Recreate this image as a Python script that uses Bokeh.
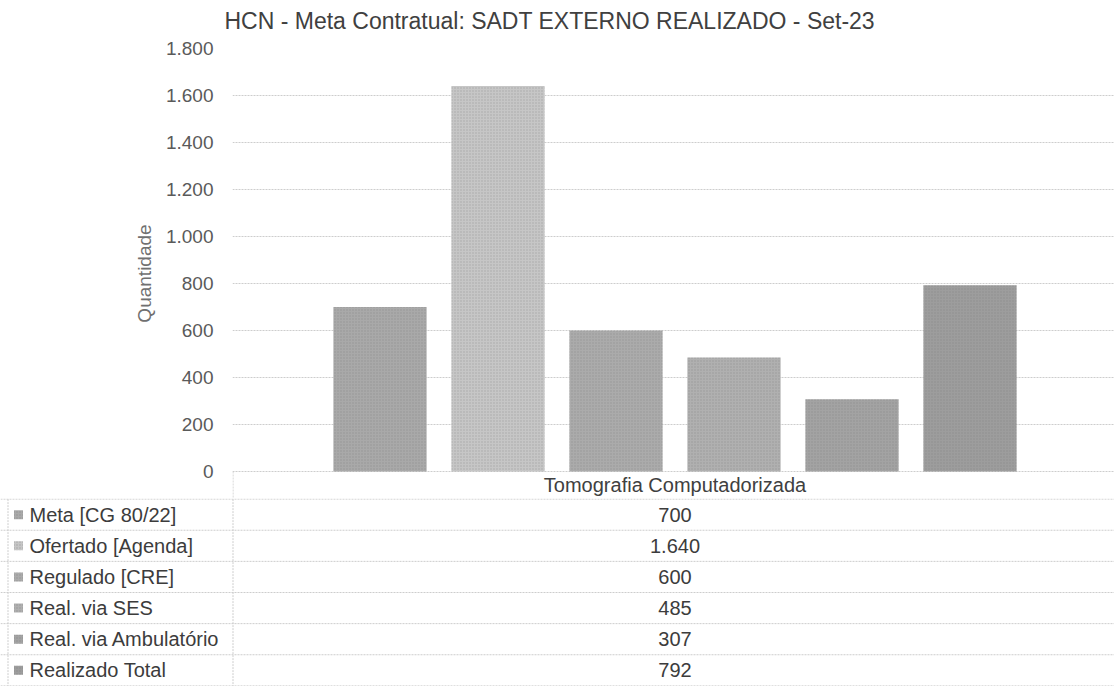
from bokeh.plotting import figure
from bokeh.models import Range1d, FixedTicker, ColumnDataSource
from bokeh.layouts import column
from bokeh.embed import file_html
from bokeh.resources import INLINE
from bokeh.core.properties import value

# ---------------- data ----------------
title_text = "HCN - Meta Contratual: SADT EXTERNO REALIZADO - Set-23"
category = "Tomografia Computadorizada"
series = ["Meta [CG 80/22]", "Ofertado [Agenda]", "Regulado [CRE]",
          "Real. via SES", "Real. via Ambulatório", "Realizado Total"]
values = [700, 1640, 600, 485, 307, 792]
colors = ["#a9a9a9", "#c6c6c6", "#ababab", "#b0b0b0", "#a3a3a3", "#9d9d9d"]
y_ticks = [0, 200, 400, 600, 800, 1000, 1200, 1400, 1600, 1800]
y_label = "Quantidade"


def br(n):
    return f"{n:,}".replace(",", ".")


FONT = "Liberation Sans"
GRID = "#cdcdcd"
idx = list(range(len(series)))
src = ColumnDataSource(dict(x=idx, top=values, color=colors))

W = 1114
LEFT = 232
unit = 118.0


def blank(height, yr):
    f = figure(width=W, height=height, output_backend="svg",
               toolbar_location=None, x_range=Range1d(0, W), y_range=yr,
               x_axis_location=None, y_axis_location=None, min_border=0,
               outline_line_color=None, background_fill_color="white",
               border_fill_color="white", frame_align=False)
    f.grid.visible = False
    return f


# ---------------- title strip ----------------
TH = 32
tt = blank(TH, Range1d(TH, 0))
tt.text(x=[224], y=[20], text=[title_text], text_align="left",
        text_baseline="middle", text_font=value(FONT), text_font_size="23px",
        text_color="#404040")

# ---------------- chart ----------------
xr = Range1d(-1.25, -1.25 + (W - LEFT) / unit)
p = figure(width=W, height=498 - TH, output_backend="svg",
           toolbar_location=None, x_range=xr, y_range=Range1d(-115, 1800),
           x_axis_location=None, min_border_left=LEFT, min_border_right=0,
           min_border_top=48 - TH, min_border_bottom=0,
           outline_line_color=None, background_fill_color="white",
           border_fill_color="white", frame_align=False)

p.vbar(x="x", top="top", width=0.79, fill_color="color", line_color=None,
       source=src, hatch_pattern="dot", hatch_color="#6e6e6e",
       hatch_alpha=0.35, hatch_scale=3, hatch_weight=1)

ax = p.yaxis[0]
ax.ticker = FixedTicker(ticks=y_ticks)
ax.major_label_overrides = {t: br(t) for t in y_ticks}
ax.axis_line_color = None
ax.major_tick_line_color = None
ax.minor_tick_line_color = None
ax.major_tick_out = 0
ax.major_tick_in = 0
ax.major_label_standoff = 19
ax.major_label_text_font = FONT
ax.major_label_text_font_size = "19px"
ax.major_label_text_color = "#5a5a5a"
ax.axis_label = y_label
ax.axis_label_text_font = FONT
ax.axis_label_text_font_style = "normal"
ax.axis_label_text_font_size = "19px"
ax.axis_label_text_color = "#707070"
ax.axis_label_standoff = 8

p.xgrid.visible = False
p.ygrid.ticker = FixedTicker(ticks=y_ticks)
p.ygrid.grid_line_color = GRID
p.ygrid.grid_line_dash = "2 1"

# table header cell (inside chart frame, below the zero line)
x_left = xr.start + 0.5 / unit
p.segment(x0=[x_left], x1=[x_left], y0=[0], y1=[p.y_range.start],
          line_color=GRID, line_dash="2 1")
p.text(x=[sum(idx) / len(idx)], y=[p.y_range.start / 2], text=[category],
       text_align="center", text_baseline="middle", text_font=value(FONT),
       text_font_size="20px", text_color="#404040")

# ---------------- data table ----------------
n = len(series)
t = blank(188, Range1d(n + 0.02, -0.02))

lines_y = list(range(n + 1))
t.segment(x0=[0] * len(lines_y), x1=[W] * len(lines_y), y0=lines_y, y1=lines_y,
          line_color=GRID, line_dash="2 1")
t.segment(x0=[7.5, LEFT + 0.5], x1=[7.5, LEFT + 0.5], y0=[0, 0], y1=[n, n],
          line_color=GRID, line_dash="2 1")

row_y = [i + 0.5 for i in idx]
t.scatter(x=[18] * n, y=row_y, marker="square", size=9, fill_color=colors,
          line_color=None, hatch_pattern="dot", hatch_color="#6e6e6e",
          hatch_alpha=0.4, hatch_scale=3)
t.text(x=[29] * n, y=row_y, text=series, text_align="left",
       text_baseline="middle", text_font=value(FONT), text_font_size="20px",
       text_color="#3c3c3c")
t.text(x=[LEFT + (1.25 + 2.5) * unit] * n, y=row_y, text=[br(v) for v in values],
       text_align="center", text_baseline="middle", text_font=value(FONT),
       text_font_size="20px", text_color="#3c3c3c")

layout = column(tt, p, t)
open("out.html", "w").write(file_html(layout, INLINE))
